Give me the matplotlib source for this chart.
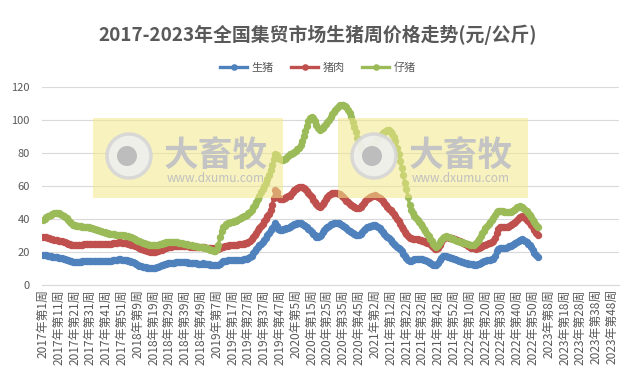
"""2017-2023 weekly live hog / pork / piglet prices at national markets."""

import matplotlib

matplotlib.use("Agg")
import matplotlib.pyplot as plt
from matplotlib.patches import Rectangle, Ellipse

plt.rcParams["font.family"] = ["Noto Sans CJK SC", "DejaVu Sans"]

# weeks per year on the category axis
years = [2017, 2018, 2019, 2020, 2021, 2022, 2023]
weeks_in_year = [52, 52, 52, 53, 52, 52, 52]

# 生猪 (元/公斤), weekly, 2017w1 .. 2023w1
hog = [
    # 2017
    18.0, 18.1, 18.0, 17.8, 17.5, 17.3, 17.2, 17.0, 16.9, 16.7,
    16.6, 16.4, 16.2, 16.0, 15.7, 15.4, 15.0, 14.6, 14.3, 14.1,
    14.0, 13.9, 13.9, 14.0, 14.1, 14.3, 14.4, 14.5, 14.6, 14.6,
    14.6, 14.5, 14.4, 14.4, 14.5, 14.6, 14.6, 14.5, 14.4, 14.3,
    14.3, 14.4, 14.5, 14.7, 14.9, 15.1, 15.3, 15.4, 15.5, 15.5,
    15.4, 15.3,
    # 2018
    15.2, 15.0, 14.8, 14.5, 14.2, 13.8, 13.3, 12.7, 12.0, 11.5,
    11.2, 11.0, 10.8, 10.6, 10.4, 10.3, 10.2, 10.2, 10.3, 10.5,
    10.8, 11.1, 11.5, 11.9, 12.3, 12.6, 12.9, 13.1, 13.3, 13.4,
    13.5, 13.6, 13.7, 13.8, 13.9, 14.0, 14.0, 13.9, 13.8, 13.7,
    13.6, 13.5, 13.4, 13.3, 13.2, 13.1, 13.0, 13.0, 13.0, 13.1,
    13.0, 12.8,
    # 2019
    12.7, 12.5, 12.3, 12.1, 12.0, 11.9, 12.0, 12.3, 13.0, 13.8,
    14.3, 14.6, 14.8, 14.9, 15.0, 15.0, 15.0, 15.0, 15.0, 15.1,
    15.2, 15.3, 15.4, 15.5, 15.7, 16.0, 16.4, 17.0, 17.8, 19.5,
    20.8, 22.0, 23.0, 24.0, 25.0, 26.0, 27.2, 28.5, 30.0, 31.5,
    33.0, 34.5, 36.0, 37.8, 36.0, 34.0, 33.0, 33.2, 33.6, 34.0,
    34.3, 34.6,
    # 2020
    35.0, 35.6, 36.2, 36.8, 37.2, 37.4, 37.5, 37.4, 37.0, 36.5,
    35.8, 35.0, 34.0, 33.0, 32.0, 31.0, 30.0, 29.3, 29.0, 29.5,
    30.5, 31.8, 33.0, 34.2, 35.2, 36.0, 36.8, 37.2, 37.4, 37.5,
    37.5, 37.3, 37.0, 36.5, 35.8, 35.0, 34.2, 33.5, 32.8, 32.0,
    31.3, 30.6, 30.2, 30.0, 30.2, 30.8, 31.8, 33.0, 34.0, 34.8,
    35.3, 35.7, 36.0,
    # 2021
    36.2, 36.3, 36.0, 35.3, 34.3, 33.2, 32.0, 30.8, 29.8, 29.0,
    28.2, 27.2, 26.0, 25.0, 24.0, 23.0, 22.2, 21.5, 20.5, 19.0,
    17.5, 16.2, 15.2, 14.6, 14.8, 15.3, 15.8, 16.0, 16.0, 15.8,
    15.6, 15.5, 15.3, 15.0, 14.5, 14.0, 13.5, 13.0, 12.4, 12.0,
    12.3, 13.5, 15.0, 16.5, 17.5, 17.8, 17.5, 17.0, 16.8, 16.5,
    16.3, 16.0,
    # 2022
    15.6, 15.0, 14.6, 14.3, 14.0, 13.8, 13.5, 13.2, 13.0, 12.8,
    12.6, 12.5, 12.4, 12.4, 12.6, 13.0, 13.5, 14.0, 14.4, 14.7,
    15.0, 15.2, 15.4, 15.6, 16.0, 17.5, 20.5, 22.0, 22.5, 22.6,
    22.5, 22.4, 22.5, 22.8, 23.3, 23.8, 24.2, 24.6, 25.2, 26.0,
    26.8, 27.3, 27.6, 27.2, 26.5, 25.8, 25.0, 24.0, 22.8, 21.3,
    19.5, 18.0,
    # 2023
    16.8,
]

# 猪肉 (元/公斤)
pork = [
    # 2017
    29.0, 29.2, 29.0, 28.7, 28.3, 28.0, 27.7, 27.5, 27.3, 27.0,
    26.8, 26.6, 26.4, 26.1, 25.8, 25.5, 25.1, 24.8, 24.5, 24.3,
    24.2, 24.1, 24.1, 24.2, 24.3, 24.5, 24.6, 24.8, 24.9, 25.0,
    25.0, 25.0, 24.9, 24.8, 24.8, 24.9, 25.0, 25.0, 24.9, 24.8,
    24.7, 24.7, 24.8, 25.0, 25.2, 25.4, 25.6, 25.7, 25.8, 25.8,
    25.7, 25.6,
    # 2018
    25.5, 25.3, 25.0, 24.8, 24.5, 24.2, 23.8, 23.3, 22.8, 22.3,
    21.9, 21.5, 21.2, 20.9, 20.6, 20.4, 20.2, 20.1, 20.0, 20.1,
    20.3, 20.6, 21.0, 21.4, 21.8, 22.2, 22.5, 22.8, 23.0, 23.2,
    23.3, 23.5, 23.6, 23.7, 23.8, 23.8, 23.7, 23.6, 23.5, 23.4,
    23.3, 23.2, 23.1, 23.0, 23.0, 22.9, 22.9, 22.8, 22.8, 22.8,
    22.7, 22.6,
    # 2019
    22.5, 22.4, 22.3, 22.2, 22.1, 22.0, 21.9, 22.0, 22.3, 22.7,
    23.1, 23.4, 23.6, 23.8, 24.0, 24.1, 24.2, 24.3, 24.4, 24.5,
    24.6, 24.7, 24.8, 25.0, 25.2, 25.5, 26.0, 26.8, 27.8, 29.0,
    30.3, 31.6, 33.0, 34.3, 35.6, 37.0, 38.5, 40.0, 41.5, 43.0,
    45.5, 48.5, 52.5, 57.5, 56.0, 53.5, 52.0, 51.8, 52.2, 52.8,
    53.2, 53.6,
    # 2020
    54.0, 55.0, 56.0, 57.2, 58.3, 59.0, 59.4, 59.5, 59.2, 58.6,
    57.8, 56.8, 55.6, 54.3, 53.0, 51.6, 50.2, 48.8, 47.6, 47.2,
    47.8, 49.0, 50.5, 52.0, 53.3, 54.3, 55.0, 55.5, 55.7, 55.8,
    55.6, 55.3, 54.8, 54.0, 53.0, 52.0, 51.0, 50.0, 49.2, 48.4,
    47.8, 47.2, 46.8, 46.5, 46.6, 47.2, 48.3, 49.5, 50.7, 51.8,
    52.7, 53.3, 53.8,
    # 2021
    54.0, 54.2, 54.0, 53.5, 52.8, 51.8, 50.6, 49.4, 48.2, 47.2,
    46.2, 45.2, 44.2, 43.0, 41.6, 40.2, 38.6, 37.0, 35.4, 33.8,
    32.2, 30.6, 29.4, 28.6, 28.2, 28.0, 28.0, 27.9, 27.7, 27.4,
    27.1, 26.8, 26.5, 26.1, 25.7, 25.2, 24.6, 23.8, 22.8, 22.0,
    21.8, 22.6, 24.2, 26.0, 27.6, 28.6, 29.0, 28.8, 28.6, 28.4,
    28.2, 28.0,
    # 2022
    27.6, 27.2, 26.8, 26.4, 25.8, 25.2, 24.6, 24.0, 23.5, 23.0,
    22.6, 22.3, 22.1, 22.0, 22.1, 22.4, 22.9, 23.5, 24.0, 24.5,
    25.0, 25.3, 25.6, 26.0, 26.8, 28.5, 31.5, 33.8, 34.8, 35.0,
    35.0, 35.0, 35.1, 35.4, 35.8, 36.3, 36.9, 37.6, 38.4, 39.4,
    40.4, 41.2, 41.6, 41.2, 40.4, 39.6, 38.8, 37.8, 36.5, 35.0,
    33.3, 31.6,
    # 2023
    30.2,
]

# 仔猪 (元/公斤)
piglet = [
    # 2017
    39.5, 40.2, 40.9, 41.5, 42.0, 42.5, 43.0, 43.4, 43.6, 43.6,
    43.4, 43.0, 42.5, 41.9, 41.2, 40.4, 39.4, 38.3, 37.3, 36.6,
    36.2, 36.0, 35.8, 35.6, 35.5, 35.4, 35.3, 35.2, 35.0, 34.8,
    34.5, 34.2, 33.9, 33.6, 33.3, 33.0, 32.7, 32.4, 32.1, 31.8,
    31.5, 31.2, 31.0, 30.8, 30.7, 30.6, 30.5, 30.4, 30.4, 30.3,
    30.2, 30.0,
    # 2018
    29.8, 29.6, 29.4, 29.1, 28.8, 28.4, 27.9, 27.4, 26.9, 26.4,
    26.0, 25.6, 25.2, 24.9, 24.6, 24.4, 24.2, 24.1, 24.0, 24.0,
    24.1, 24.3, 24.6, 24.9, 25.2, 25.5, 25.8, 26.0, 26.2, 26.3,
    26.3, 26.2, 26.0, 25.8, 25.6, 25.4, 25.2, 25.0, 24.8, 24.6,
    24.4, 24.2, 24.0, 23.8, 23.6, 23.4, 23.2, 23.0, 22.8, 22.7,
    22.5, 22.4,
    # 2019
    22.3, 21.8, 21.3, 20.9, 20.6, 20.6, 21.5, 24.5, 29.0, 32.5,
    34.8, 36.0, 36.8, 37.3, 37.7, 38.0, 38.3, 38.6, 38.9, 39.3,
    39.8, 40.4, 41.0, 41.5, 42.0, 42.6, 43.4, 44.4, 45.6, 47.0,
    48.6, 50.4, 52.2, 54.0, 56.0, 58.0, 60.0, 62.0, 64.0, 66.5,
    69.5, 72.5, 76.0, 79.5, 78.5, 77.0, 76.0, 75.5, 75.5, 76.0,
    76.8, 77.8,
    # 2020
    79.0, 79.5, 80.0, 80.5, 81.0, 82.0, 83.0, 85.0, 87.0, 90.0,
    93.0, 96.0, 99.0, 101.0, 101.8, 101.0, 99.5, 97.0, 95.0, 94.0,
    94.3, 95.3, 96.5, 97.5, 98.5, 99.8, 101.5, 103.2, 104.8, 106.2,
    107.4, 108.3, 108.8, 109.0, 109.0, 108.6, 107.6, 106.0, 104.0, 101.5,
    98.5, 95.5, 92.5, 89.0, 86.0, 83.5, 81.5, 80.7, 80.5, 81.0,
    81.8, 82.8, 84.0,
    # 2021
    85.0, 86.2, 87.5, 88.8, 90.0, 91.0, 92.0, 92.8, 93.4, 93.7,
    93.5, 92.8, 91.5, 89.5, 87.0, 83.0, 79.0, 75.0, 71.0, 66.5,
    62.0, 58.0, 53.0, 48.5, 45.5, 43.5, 42.0, 40.8, 39.5, 38.3,
    37.0, 35.5, 34.0, 32.5, 31.0, 29.5, 28.0, 26.5, 25.0, 23.8,
    23.2, 24.0, 25.8, 27.5, 28.6, 29.2, 29.4, 29.2, 28.8, 28.4,
    28.0, 27.6,
    # 2022
    27.2, 26.9, 26.6, 26.3, 26.0, 25.7, 25.4, 25.1, 24.8, 24.5,
    24.3, 24.2, 24.5, 25.3, 26.5, 28.0, 29.6, 31.2, 32.8, 34.3,
    35.7, 37.0, 38.2, 39.3, 40.5, 42.2, 44.2, 45.0, 45.0, 44.8,
    44.6, 44.4, 44.3, 44.2, 44.2, 44.4, 44.8, 45.4, 46.2, 47.0,
    47.5, 47.6, 47.2, 46.5, 45.6, 44.6, 43.5, 42.3, 41.0, 39.5,
    38.0, 36.6,
    # 2023
    35.2,
]

series_names = ["生猪", "猪肉", "仔猪"]
series_colors = ["#4F81BD", "#C0504D", "#9BBB59"]

categories = [f"{y}年第{w}周" for y, n in zip(years, weeks_in_year) for w in range(1, n + 1)]

W, H = 636, 373
fig = plt.figure(figsize=(W / 100, H / 100), dpi=100)
ax = fig.add_axes([42.2 / W, 1 - 285 / H, (619 - 42.2) / W, (285 - 86.7) / H])

for name, vals, col in zip(series_names, [hog, pork, piglet], series_colors):
    ax.plot(range(len(vals)), vals, color=col, lw=2.4, marker="o", ms=5.3,
            markeredgewidth=0, label=name, zorder=3)

ax.set_xlim(-0.5, len(categories) - 0.5)
ax.set_ylim(0, 120)
ax.set_yticks(range(0, 121, 20))
ax.grid(axis="y", color="#D9D9D9", lw=0.8)
ax.set_axisbelow(True)
for s in ["top", "right", "left"]:
    ax.spines[s].set_visible(False)
ax.spines["bottom"].set_color("#D9D9D9")
ax.spines["bottom"].set_linewidth(0.8)

ticks = list(range(0, len(categories), 10))
ax.set_xticks(ticks)
ax.set_xticklabels([categories[t] for t in ticks], rotation=90, fontsize=8.6,
                   color="#595959")
ax.tick_params(axis="x", length=0, pad=3)
ax.tick_params(axis="y", length=0, pad=9, labelsize=8, labelcolor="#595959")

fig.text(0.5, 1 - 35 / H, "2017-2023年全国集贸市场生猪周价格走势(元/公斤)",
         ha="center", va="center", fontsize=13.6, fontweight="bold", color="#595959")

ax.legend(loc="center", bbox_to_anchor=(0.5, 1 - 68 / H), bbox_transform=fig.transFigure,
          ncol=3, frameon=False, fontsize=8, handlelength=2.4, columnspacing=1.6,
          handletextpad=0.4, markerscale=0.9, labelcolor="#595959")

# watermarks
for x0, y0 in [(93, 118), (338, 118)]:
    fig.add_artist(Rectangle((x0 / W, 1 - (y0 + 80) / H), 190 / W, 80 / H,
                             transform=fig.transFigure, facecolor="#F2E88A",
                             alpha=0.55, edgecolor="none", zorder=5))
    cx, cy = x0 + 36, y0 + 38
    fig.add_artist(Ellipse((cx / W, 1 - cy / H), 44 / W, 44 / H, transform=fig.transFigure,
                           facecolor="#EFEFEF", edgecolor="#D6D6D6", lw=2.5,
                           alpha=0.9, zorder=6))
    fig.add_artist(Ellipse(((cx - 2) / W, 1 - cy / H), 20 / W, 20 / H,
                           transform=fig.transFigure, facecolor="#BDBDBD",
                           edgecolor="none", zorder=7))
    fig.text((x0 + 123) / W, 1 - (y0 + 37) / H, "大畜牧", ha="center", va="center",
             fontsize=25, fontweight="bold", color="#C4C4C4", zorder=8)
    fig.text((x0 + 123) / W, 1 - (y0 + 60) / H, "www.dxumu.com", ha="center",
             va="center", fontsize=8.5, color="#C0C0C0", zorder=8)

fig.savefig("out.png", dpi=100)
